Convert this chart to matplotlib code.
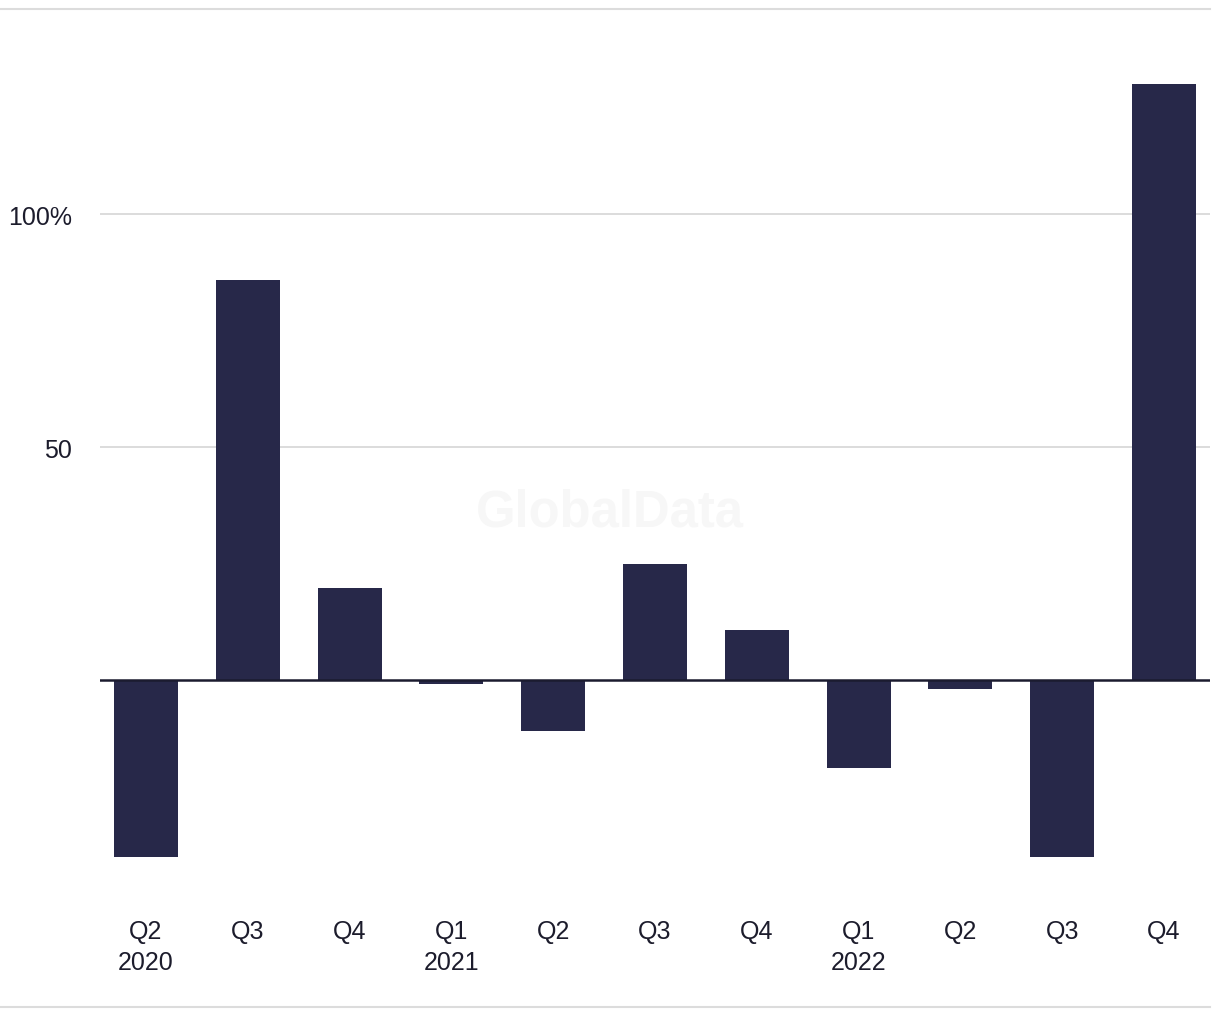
import matplotlib.pyplot as plt
from matplotlib.lines import Line2D

quarters = ["Q2\n2020", "Q3", "Q4", "Q1\n2021", "Q2", "Q3", "Q4",
            "Q1\n2022", "Q2", "Q3", "Q4"]
growth = [-38.0, 85.8, 19.7, -0.9, -10.9, 24.9, 10.7, -18.9, -1.9, -38.0, 127.9]
yticks = [50, 100]
ytick_labels = ["50", "100%"]

bar_color = "#272849"
text_color = "#1c1c2c"
plt.rcParams['font.family'] = ['Liberation Sans', 'DejaVu Sans']

fig = plt.figure(figsize=(12.2, 10.2), dpi=100)
W, H = 1220, 1020
# axes placed in pixel coords: x 100..1210, y 10..880
ax = fig.add_axes([100 / W, (H - 880) / H, 1110 / W, 870 / H])

x = range(len(growth))
ax.bar(x, growth, width=0.63, color=bar_color, zorder=3)
ax.axhline(0, color="#1b1b2f", linewidth=1.8, zorder=4)

ax.set_xlim(-0.452, len(growth) - 1 + 0.452)
ax.set_ylim(-42.67, 144.03)
ax.set_yticks(yticks)
ax.set_yticklabels(ytick_labels)
ax.set_xticks(list(x))
ax.set_xticklabels(quarters, linespacing=1.38)
ax.yaxis.grid(True, color="#dcdcdc", linewidth=1.4, zorder=0)
ax.tick_params(axis="y", length=0, pad=20, labelsize=18, labelcolor=text_color)
ax.tick_params(axis="x", length=0, pad=29, labelsize=18, labelcolor=text_color)
for s in ax.spines.values():
    s.set_visible(False)

# watermark
fig.text(610 / W, 1 - 513 / H, "GlobalData", ha="center", va="center",
         fontsize=36.5, fontweight="bold", color="#f7f7f7", zorder=1)

# top and bottom rules
fig.add_artist(Line2D([0, 1210 / W], [1 - 10 / H, 1 - 10 / H], color="#dcdcdc", linewidth=1.5))
fig.add_artist(Line2D([0, 1210 / W], [1 - 1008 / H, 1 - 1008 / H], color="#dcdcdc", linewidth=1.5))

fig.savefig("out.png", dpi=100)
